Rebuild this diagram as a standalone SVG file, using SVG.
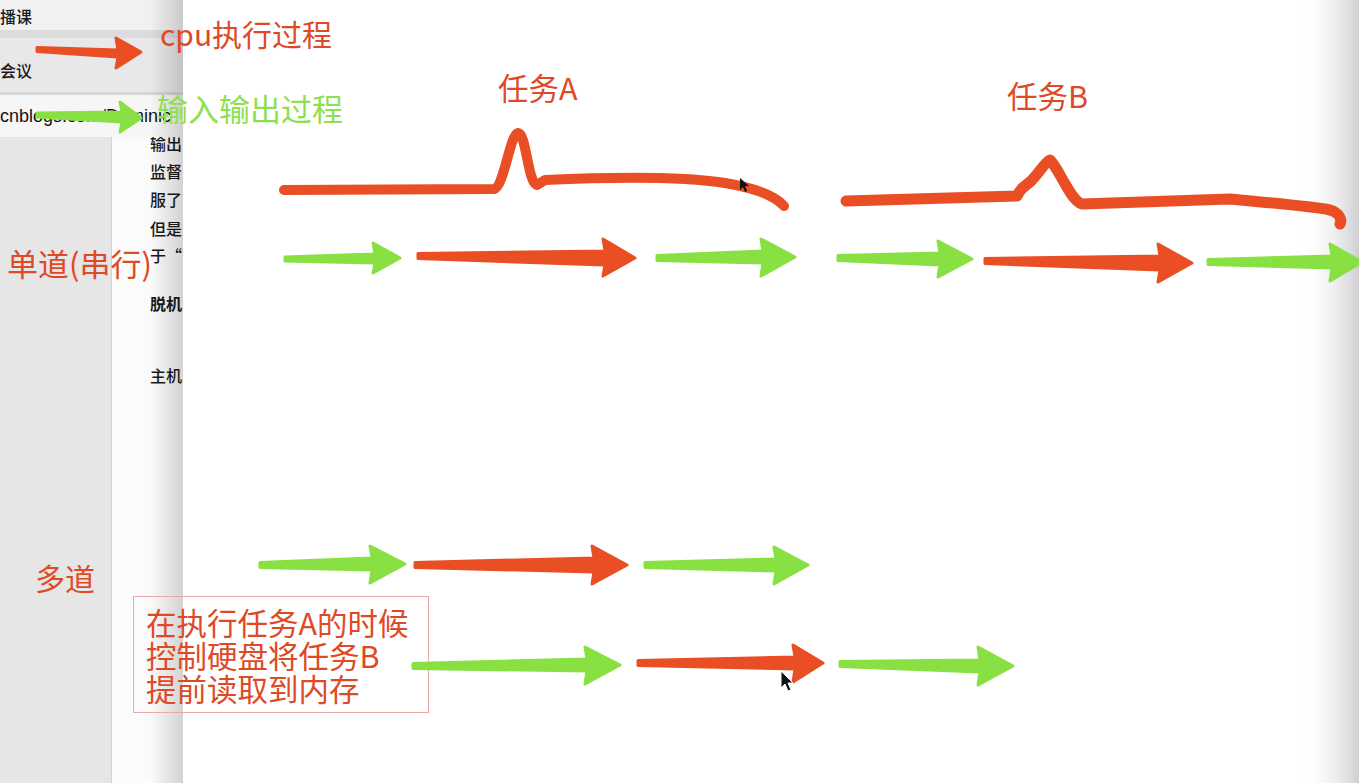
<svg xmlns="http://www.w3.org/2000/svg" width="1359" height="783" viewBox="0 0 1359 783">
<defs>
<linearGradient id="lshadow" x1="0" y1="0" x2="1" y2="0">
<stop offset="0" stop-color="#000" stop-opacity="0"/>
<stop offset="1" stop-color="#000" stop-opacity="0.16"/>
</linearGradient>
<linearGradient id="rshadow" x1="0" y1="0" x2="1" y2="0">
<stop offset="0" stop-color="#fff" stop-opacity="0"/>
<stop offset="1" stop-color="#cfcfd2" stop-opacity="1"/>
</linearGradient>
<style>
.cn{font-family:"Noto Sans CJK SC","Noto Sans",sans-serif}
.red{fill:#de4a26}
.grn{fill:#8fe04f}
.doc{font-family:"Noto Sans CJK SC","Noto Sans",sans-serif;font-size:16px;fill:#1a1a1a;font-weight:500}
.bold{font-weight:bold}
.ra{fill:#e94e24;stroke:#e94e24;stroke-width:3;stroke-linejoin:round}
.ga{fill:#88e043;stroke:#88e043;stroke-width:3;stroke-linejoin:round}
.curve{fill:none;stroke:#e94e24;stroke-linecap:round;stroke-linejoin:round}
</style>
</defs>
<g id="background">
<rect x="0" y="0" width="1359" height="783" fill="#e6e6e6"/>
<rect x="112" y="137" width="71" height="646" fill="#fbfbfb"/>
<line x1="111.5" y1="137" x2="111.5" y2="783" stroke="#d2d2d2"/>
<text class="doc" x="150" y="150">输出</text>
<text class="doc" x="150" y="178">监督</text>
<text class="doc" x="150" y="206">服了</text>
<text class="doc" x="150" y="235">但是</text>
<text class="doc" x="150" y="262">于“</text>
<text class="doc bold" x="150" y="310">脱机</text>
<text class="doc" x="150" y="382">主机</text>
<rect x="0" y="0" width="183" height="30" fill="#f1f1f1"/>
<rect x="0" y="30" width="183" height="8" fill="#dcdcdc"/>
<rect x="0" y="38" width="183" height="54" fill="#e8e8ea"/>
<rect x="0" y="92" width="183" height="3" fill="#d6d6d6"/>
<rect x="0" y="95" width="183" height="42" fill="#f6f6f6"/>
<text class="doc" x="0" y="23" font-size="15">播课</text>
<text class="doc" x="0" y="77" font-size="16" fill="#333">会议</text>
<text x="0" y="122" font-family="Liberation Sans, sans-serif" font-size="18" fill="#111">cnblogs.com/Dominic</text>
<rect x="150" y="0" width="33" height="783" fill="url(#lshadow)"/>
<rect x="183" y="0" width="1176" height="783" fill="#ffffff"/>
<rect x="1300" y="0" width="59" height="783" fill="url(#rshadow)"/>
</g>
<g id="legend-cpu">
<path class="ra" d="M37,47.5 L118,50 L116,38 L141,52 L116,68 L118,57 L37,51.5 Z"/>
<text class="cn red" x="160" y="46" font-size="30">cpu执行过程</text>
</g>
<g id="legend-io">
<path class="ga" d="M37,113 L122,112 L120,102 L141,118 L120,132 L122,122 L37,117 Z"/>
<text class="cn grn" x="157" y="121" font-size="31">输入输出过程</text>
</g>
<g id="label-taskA"><text class="cn red" x="498" y="100" font-size="30.5">任务A</text></g>
<g id="label-taskB"><text class="cn red" x="1007" y="108" font-size="30.5">任务B</text></g>
<g id="label-single"><text class="cn red" x="7" y="276" font-size="31">单道(串行)</text></g>
<g id="label-multi"><text class="cn red" x="35" y="590" font-size="30">多道</text></g>
<g id="note">
<rect x="133.5" y="596.5" width="295" height="116" fill="none" stroke="#eaa9a9" stroke-width="1"/>
<text class="cn red" font-size="30.5"><tspan x="146" y="635">在执行任务A的时候</tspan><tspan x="146" y="668">控制硬盘将任务B</tspan><tspan x="146" y="701">提前读取到内存</tspan></text>
</g>
<g id="timeline-A">
<path class="curve" stroke-width="10" d="M284,190 L494,189 C504,187 510,134 518,133 C526,132 528,184 537,185 L545,180 C610,177 680,176 725,183 C755,188 775,196 784,206"/>
</g>
<g id="timeline-B">
<path class="curve" stroke-width="11" d="M846,201 L1017,196 C1020,190 1022,188 1030,182 C1040,172 1045,162 1050,160 C1060,170 1070,200 1082,204 L1230,199 C1270,203 1310,206 1330,210 C1340,213 1342,220 1340,224"/>
</g>
<g id="connectors">
<path class="ga" d="M285,257 L375,254 L373,243 L400,258 L373,273 L375,263 L285,261 Z"/>
<path class="ra" d="M418,253.5 L605,251 L603,239 L635,258 L603,276 L605,265 L418,258.5 Z"/>
<path class="ga" d="M657,255.5 L763,251 L761,239 L795,257 L761,276 L763,263 L657,260.5 Z"/>
<path class="ga" d="M838,255.5 L940,253 L938,241 L972,259 L938,277 L940,265 L838,260.5 Z"/>
<path class="ra" d="M985,258.5 L1160,256 L1158,244 L1192,263 L1158,282 L1160,270 L985,263.5 Z"/>
<path class="ga" d="M1208,259.5 L1332,256 L1330,244 L1362,262 L1330,281 L1332,268 L1208,264.5 Z"/>
<path class="ga" d="M260,562.5 L372,558 L370,546 L405,564 L370,583 L372,570 L260,567.5 Z"/>
<path class="ra" d="M415,562.5 L594,558 L592,546 L627,565 L592,584 L594,572 L415,567.5 Z"/>
<path class="ga" d="M645,562.5 L776,559 L774,547 L808,565 L774,584 L776,571 L645,567.5 Z"/>
<path class="ga" d="M413,663.5 L587,659 L585,647 L620,665 L585,684 L587,671 L413,668.5 Z"/>
<path class="ra" d="M638,660.5 L795,657 L793,645 L823,663 L793,682 L795,669 L638,665.5 Z"/>
<path class="ga" d="M840,661.5 L980,660 L978,647 L1013,666 L978,685 L980,672 L840,666.5 Z"/>
</g>
<g id="cursors">
<path d="M740,178 L740,190 L743,187 L745,192 L747,191 L745,186 L749,186 Z" fill="#111"/>
<path d="M781,671 L781,688 L785,684 L788,691 L791,690 L788,683 L793,683 Z" fill="#111" stroke="#fff" stroke-width="1"/>
</g>
</svg>
